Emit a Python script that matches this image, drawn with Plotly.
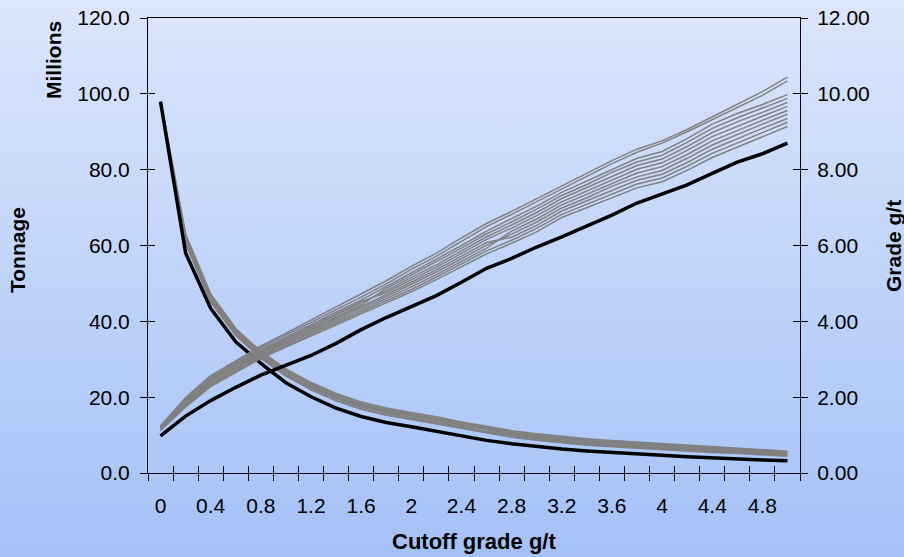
import base64
import plotly.graph_objects as go

# ---------------- data ----------------
cutoffs = ["0", "0.2", "0.4", "0.6", "0.8", "1", "1.2", "1.4", "1.6", "1.8", "2", "2.2", "2.4",
           "2.6", "2.8", "3", "3.2", "3.4", "3.6", "3.8", "4", "4.2", "4.4", "4.6", "4.8", "5"]
tick_text = ["0", "", "0.4", "", "0.8", "", "1.2", "", "1.6", "", "2", "", "2.4", "",
             "2.8", "", "3.2", "", "3.6", "", "4", "", "4.4", "", "4.8", ""]

# tonnage (millions) - reference estimate (black) and simulations (grey)
tonnage_ref = [97.9, 58.0, 43.4, 34.6, 28.9, 23.8, 20.1, 17.1, 14.9, 13.3, 12.2, 11.0, 9.8,
               8.6, 7.7, 6.9, 6.3, 5.8, 5.35, 5.0, 4.65, 4.3, 3.96, 3.7, 3.43, 3.2]
tonnage_sim1 = [97.5, 60.6, 45.1, 36.3, 30.3, 25.6, 22.0, 19.1, 16.9, 15.3, 14.2, 13.0, 11.8,
                10.5, 9.5, 8.7, 8.0, 7.4, 7.0, 6.6, 6.2, 5.8, 5.5, 5.2, 4.9, 4.5]
tonnage_sim2 = [97.6, 61.2, 45.6, 36.8, 30.7, 26.0, 22.5, 19.6, 17.4, 15.8, 14.6, 13.5, 12.2,
                10.9, 9.9, 9.1, 8.4, 7.8, 7.3, 6.9, 6.5, 6.2, 5.8, 5.5, 5.2, 4.8]
tonnage_sim3 = [97.8, 61.7, 46.1, 37.2, 31.2, 26.5, 22.9, 20.0, 17.8, 16.2, 15.1, 13.9, 12.6,
                11.3, 10.3, 9.5, 8.8, 8.2, 7.7, 7.3, 6.9, 6.5, 6.1, 5.8, 5.45, 5.1]
tonnage_sim4 = [97.9, 62.2, 46.6, 37.6, 31.6, 27.0, 23.4, 20.5, 18.2, 16.6, 15.5, 14.3, 13.0,
                11.8, 10.7, 9.9, 9.2, 8.6, 8.1, 7.7, 7.3, 6.8, 6.4, 6.1, 5.75, 5.4]
tonnage_sim5 = [98.0, 62.8, 47.1, 38.0, 32.0, 27.4, 23.8, 20.9, 18.7, 17.1, 15.9, 14.8, 13.4,
                12.2, 11.1, 10.3, 9.6, 9.0, 8.5, 8.1, 7.6, 7.2, 6.8, 6.4, 6.1, 5.7]

# grade (g/t) - reference estimate (black) and simulations (grey)
grade_ref = [0.98, 1.50, 1.91, 2.26, 2.58, 2.85, 3.10, 3.42, 3.78, 4.10, 4.40, 4.68, 5.03,
             5.40, 5.66, 5.96, 6.23, 6.51, 6.80, 7.12, 7.35, 7.60, 7.90, 8.20, 8.42, 8.70]
grade_sim_a = [1.12, 1.74, 2.28, 2.66, 3.02, 3.32, 3.60, 3.90, 4.20, 4.48, 4.78, 5.10, 5.44,
               5.78, 6.06, 6.36, 6.74, 7.00, 7.28, 7.52, 7.68, 7.98, 8.32, 8.60, 8.88, 9.14]
grade_sim_b = [1.13, 1.77, 2.31, 2.69, 3.05, 3.35, 3.64, 3.94, 4.25, 4.54, 4.84, 5.17, 5.51,
               5.86, 6.14, 6.45, 6.82, 7.09, 7.37, 7.62, 7.78, 8.09, 8.43, 8.71, 8.99, 9.25]
grade_sim_c = [1.15, 1.79, 2.34, 2.72, 3.08, 3.39, 3.68, 3.99, 4.29, 4.59, 4.91, 5.23, 5.58,
               5.93, 6.38, 6.70, 7.07, 7.35, 7.65, 7.91, 8.08, 8.40, 8.76, 9.04, 9.30, 9.56]
grade_sim_d = [1.16, 1.82, 2.37, 2.75, 3.11, 3.42, 3.72, 4.03, 4.34, 4.65, 4.97, 5.30, 5.65,
               6.01, 6.30, 6.62, 6.99, 7.26, 7.56, 7.81, 7.98, 8.30, 8.65, 8.93, 9.20, 9.46]
grade_sim_e = [1.17, 1.85, 2.40, 2.78, 3.14, 3.45, 3.76, 4.07, 4.38, 4.70, 5.03, 5.36, 5.72,
               6.08, 6.22, 6.53, 6.91, 7.18, 7.47, 7.72, 7.88, 8.19, 8.54, 8.82, 9.09, 9.35]
grade_sim_f = [1.21, 1.92, 2.49, 2.87, 3.23, 3.55, 3.88, 4.20, 4.52, 4.76, 5.09, 5.43, 5.79,
               6.16, 6.46, 6.79, 7.15, 7.44, 7.74, 8.01, 8.18, 8.51, 8.87, 9.15, 9.41, 9.67]
grade_sim_g = [1.20, 1.90, 2.46, 2.84, 3.20, 3.52, 3.84, 4.16, 4.47, 4.81, 5.16, 5.49, 5.86,
               6.23, 6.54, 6.87, 7.24, 7.53, 7.84, 8.11, 8.28, 8.61, 8.98, 9.26, 9.51, 9.77]
grade_sim_h = [1.18, 1.87, 2.43, 2.81, 3.17, 3.48, 3.80, 4.11, 4.43, 4.87, 5.22, 5.56, 5.93,
               6.31, 6.62, 6.96, 7.32, 7.61, 7.93, 8.20, 8.38, 8.72, 9.09, 9.37, 9.62, 9.88]
grade_sim_i = [1.22, 1.95, 2.52, 2.90, 3.26, 3.58, 3.92, 4.24, 4.56, 4.92, 5.28, 5.62, 6.00,
               6.38, 6.70, 7.04, 7.40, 7.70, 8.02, 8.30, 8.48, 8.82, 9.20, 9.48, 9.72, 9.98]
grade_sim_j = [1.23, 1.97, 2.55, 2.94, 3.31, 3.64, 3.97, 4.31, 4.64, 4.99, 5.37, 5.72, 6.11,
               6.50, 6.82, 7.16, 7.50, 7.82, 8.16, 8.46, 8.70, 9.00, 9.32, 9.64, 9.96, 10.34]
grade_sim_k = [1.24, 1.99, 2.57, 2.97, 3.35, 3.69, 4.03, 4.37, 4.71, 5.07, 5.45, 5.80, 6.20,
               6.58, 6.90, 7.24, 7.58, 7.90, 8.24, 8.54, 8.76, 9.06, 9.40, 9.74, 10.06, 10.44]

tonnage_sims = [tonnage_sim1, tonnage_sim2, tonnage_sim3, tonnage_sim4, tonnage_sim5]
grade_sims = [grade_sim_a, grade_sim_b, grade_sim_c, grade_sim_d, grade_sim_e, grade_sim_f,
              grade_sim_g, grade_sim_h, grade_sim_i, grade_sim_j, grade_sim_k]

# ---------------- style ----------------
FONT = "Liberation Sans, Arial, sans-serif"
GREY = "#808080"
W, H = 904, 557
ML, MR, MT, MB = 148, 104, 18, 84
PW, PH = W - ML - MR, H - MT - MB

fig = go.Figure()

for s in tonnage_sims:
    fig.add_trace(go.Scatter(x=cutoffs, y=s, mode="lines", xaxis="x", yaxis="y",
                             line=dict(color=GREY, width=2), showlegend=False, hoverinfo="skip"))
fig.add_trace(go.Scatter(x=cutoffs, y=tonnage_ref, mode="lines", xaxis="x", yaxis="y",
                         line=dict(color="black", width=3.5), showlegend=False))
for s in grade_sims:
    fig.add_trace(go.Scatter(x=cutoffs, y=s, mode="lines", xaxis="x", yaxis="y2",
                             line=dict(color=GREY, width=1.5), showlegend=False, hoverinfo="skip"))
fig.add_trace(go.Scatter(x=cutoffs, y=grade_ref, mode="lines", xaxis="x", yaxis="y2",
                         line=dict(color="black", width=3.5), showlegend=False))

# helper (empty) traces so the inside-tick overlay axes get drawn
fig.add_trace(go.Scatter(x=[], y=[], xaxis="x2", yaxis="y", showlegend=False))
fig.add_trace(go.Scatter(x=[], y=[], xaxis="x", yaxis="y3", showlegend=False))
fig.add_trace(go.Scatter(x=[], y=[], xaxis="x", yaxis="y4", showlegend=False))

svg = (f'<svg xmlns="http://www.w3.org/2000/svg" width="{W}" height="{H}">'
       '<defs><linearGradient id="g" x1="0" y1="0" x2="0" y2="1">'
       '<stop offset="0" stop-color="#dce6fc"/><stop offset="1" stop-color="#a4c1f7"/>'
       '</linearGradient></defs>'
       f'<rect width="{W}" height="{H}" fill="url(#g)"/></svg>')
bg_src = "data:image/svg+xml;base64," + base64.b64encode(svg.encode()).decode()

tickfont = dict(family=FONT, size=21, color="black")
common_x = dict(type="category", categoryorder="array", categoryarray=cutoffs,
                range=[-0.5, len(cutoffs) - 0.5], tickmode="array", tickvals=cutoffs,
                tickson="boundaries", ticklen=7, tickwidth=1, tickcolor="black",
                showgrid=False, zeroline=False, automargin=False, tickangle=0)

fig.update_layout(
    width=W, height=H, autosize=False,
    margin=dict(l=ML, r=MR, t=MT, b=MB, pad=0),
    paper_bgcolor="#c2d5fa", plot_bgcolor="rgba(0,0,0,0)",
    font=dict(family=FONT, color="black"),
    showlegend=False,
    images=[dict(source=bg_src, xref="paper", yref="paper",
                 x=-ML / PW, y=1 + MT / PH, sizex=W / PW, sizey=H / PH,
                 xanchor="left", yanchor="top", sizing="stretch", layer="below")],
    xaxis=dict(**common_x, ticktext=tick_text, ticks="outside", showline=True,
               linecolor="black", linewidth=1, mirror=True, tickfont=tickfont,
               ticklabelstandoff=14),
    xaxis2=dict(**common_x, overlaying="x", anchor="y", ticks="inside",
                showticklabels=False, showline=False),
    yaxis=dict(range=[0, 120], tickmode="linear", tick0=0, dtick=20, tickformat=".1f",
               ticks="outside", ticklen=7, tickcolor="black", showline=True,
               linecolor="black", linewidth=1, showgrid=False, zeroline=False,
               tickfont=tickfont, ticklabelstandoff=6, automargin=False),
    yaxis2=dict(range=[0, 12], tickmode="linear", tick0=0, dtick=2, tickformat=".2f",
                overlaying="y", side="right", anchor="x",
                ticks="outside", ticklen=7, tickcolor="black", showline=True,
                linecolor="black", linewidth=1, showgrid=False, zeroline=False,
                tickfont=tickfont, ticklabelstandoff=5, automargin=False),
    yaxis3=dict(range=[0, 120], tickmode="linear", tick0=0, dtick=20, overlaying="y",
                side="left", anchor="x", ticks="inside", ticklen=7, tickcolor="black",
                showticklabels=False, showline=False, showgrid=False, zeroline=False,
                automargin=False),
    yaxis4=dict(range=[0, 12], tickmode="linear", tick0=0, dtick=2, overlaying="y",
                side="right", anchor="x", ticks="inside", ticklen=7, tickcolor="black",
                showticklabels=False, showline=False, showgrid=False, zeroline=False,
                automargin=False),
)

title_font = dict(family=FONT, size=21, color="black")


def px_to_paper_x(px):
    return (px - ML) / PW


def px_to_paper_y(py):
    return (MT + PH - py) / PH


fig.add_annotation(text="<b>Cutoff grade g/t</b>", xref="paper", yref="paper",
                   x=px_to_paper_x(474), y=px_to_paper_y(541), xanchor="center",
                   yanchor="middle", showarrow=False, font=dict(family=FONT, size=22, color="black"))
fig.add_annotation(text="<b>Tonnage</b>", xref="paper", yref="paper",
                   x=px_to_paper_x(18), y=px_to_paper_y(250), xanchor="center",
                   yanchor="middle", textangle=-90, showarrow=False, font=title_font)
fig.add_annotation(text="<b>Millions</b>", xref="paper", yref="paper",
                   x=px_to_paper_x(53), y=px_to_paper_y(60), xanchor="center",
                   yanchor="middle", textangle=-90, showarrow=False, font=title_font)
fig.add_annotation(text="<b>Grade g/t</b>", xref="paper", yref="paper",
                   x=px_to_paper_x(893), y=px_to_paper_y(246), xanchor="center",
                   yanchor="middle", textangle=-90, showarrow=False, font=title_font)

fig.write_html("out.html")
